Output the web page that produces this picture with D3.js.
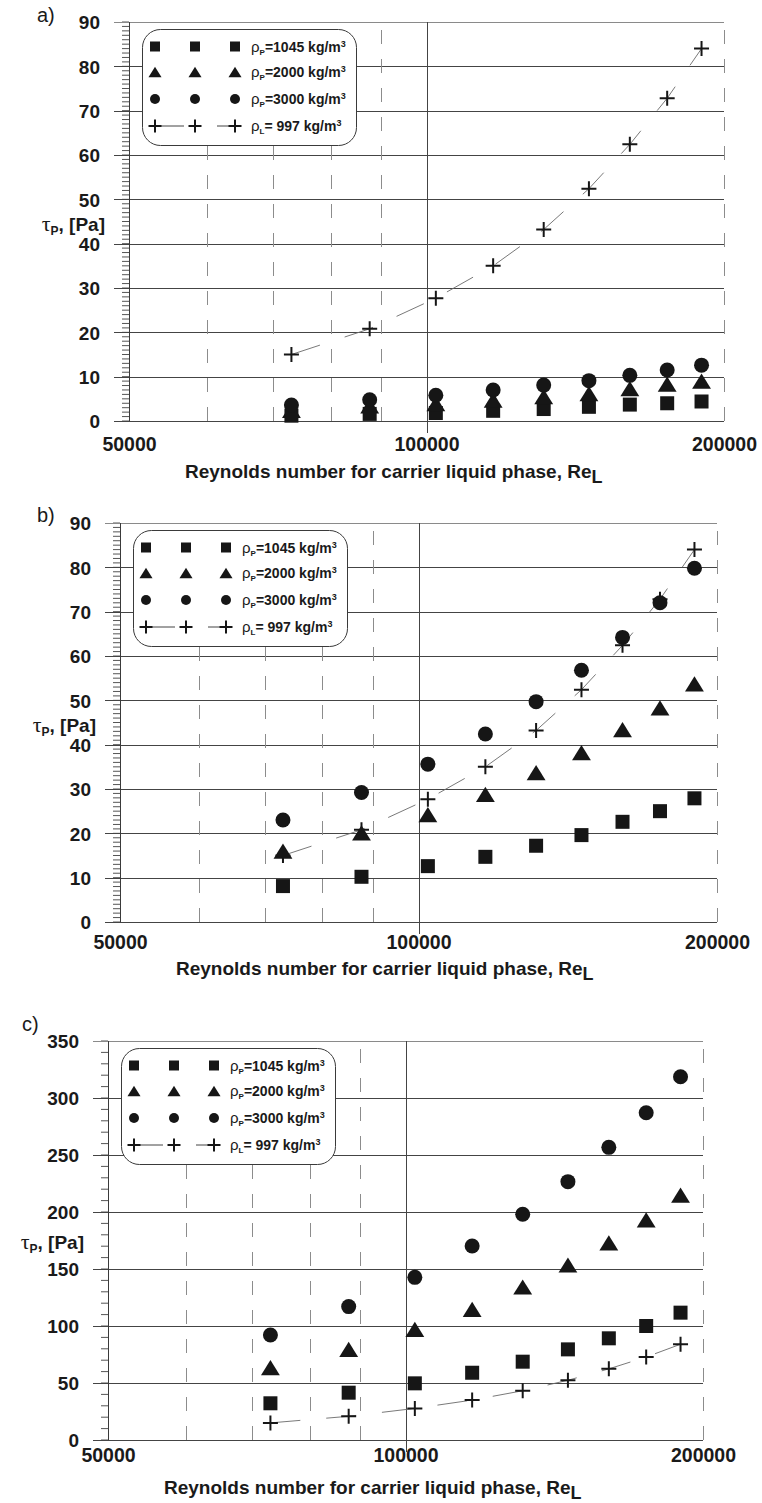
<!DOCTYPE html>
<html>
<head>
<meta charset="utf-8">
<script src="https://cdn.jsdelivr.net/npm/d3@7"></script>
<style>
  html, body { margin: 0; padding: 0; background: #fff; }
  svg { display: block; }
  text { font-family: "Liberation Sans", Arial, sans-serif; fill: #1a1a1a; }
</style>
</head>
<body>
<script>
// Reynolds numbers of the measured points (same for all three panels)
const reynolds = [73000, 87600, 102200, 116800, 131400, 146000, 160600, 175200, 189800];

// Carrier liquid alone, rho_L = 997 kg/m3 (same curve in every panel)
const liquid = [15, 20.8, 27.7, 35, 43.2, 52.4, 62.4, 72.8, 84];

// Panel a)
const aRho1045 = [1.2, 1.6, 1.8, 2.3, 2.7, 3.2, 3.7, 4.0, 4.4];
const aRho2000 = [2.4, 3.4, 3.9, 4.7, 5.5, 6.2, 7.3, 8.3, 9.0];
const aRho3000 = [3.6, 4.8, 5.8, 7.0, 8.1, 9.1, 10.3, 11.5, 12.6];

// Panel b)
const bRho1045 = [8.1, 10.2, 12.6, 14.7, 17.2, 19.6, 22.6, 25.0, 27.9];
const bRho2000 = [16.0, 20.1, 24.2, 28.8, 33.7, 38.2, 43.4, 48.3, 53.7];
const bRho3000 = [23.0, 29.2, 35.6, 42.4, 49.7, 56.8, 64.2, 72.0, 79.8];

// Panel c)
const cRho1045 = [32.2, 41.5, 49.7, 59.0, 68.7, 79.5, 89.2, 100.0, 111.7];
const cRho2000 = [63.4, 79.5, 97.0, 114.6, 134.2, 153.5, 173.0, 193.0, 214.9];
const cRho3000 = [92.1, 117.0, 142.7, 170.2, 198.0, 226.6, 256.7, 287.0, 318.7];

// Axis ticks
const xTickLabels = [50000, 100000, 200000];
const xDashedGrid = [60000, 70000, 80000, 90000, 200000];
const xSolidGrid = [100000];
const yTicksSmall = [0, 10, 20, 30, 40, 50, 60, 70, 80, 90];
const yTicksLarge = [0, 50, 100, 150, 200, 250, 300, 350];

// Legend entries
const legendLabels = [
  { sym: "square",   rho: "P", text: "=1045 kg/m" },
  { sym: "triangle", rho: "P", text: "=2000 kg/m" },
  { sym: "circle",   rho: "P", text: "=3000 kg/m" },
  { sym: "cross",    rho: "L", text: "= 997 kg/m" }
];

const panels = [
  { tag: "a)", tagX: 37, tagY: 22, left: 129, right: 724, top: 22, bottom: 421,
    yMax: 90, yTicks: yTicksSmall, minor: 1, xLabY: 30, titleY: 57, yTitleY: 231,
    sq: aRho1045, tri: aRho2000, circ: aRho3000 },
  { tag: "b)", tagX: 37, tagY: 522, left: 120, right: 717, top: 523, bottom: 922,
    yMax: 90, yTicks: yTicksSmall, minor: 1, xLabY: 27, titleY: 53, yTitleY: 732,
    sq: bRho1045, tri: bRho2000, circ: bRho3000 },
  { tag: "c)", tagX: 22, tagY: 1031, left: 108, right: 703, top: 1041, bottom: 1440,
    yMax: 350, yTicks: yTicksLarge, minor: 10, xLabY: 22, titleY: 54, yTitleY: 1249,
    sq: cRho1045, tri: cRho2000, circ: cRho3000 }
];

const svg = d3.select("body").append("svg")
  .attr("width", 762).attr("height", 1503);

const INK = "#161616";

// marker drawers, centred at (0,0)
function drawMarker(sel, type, s) {
  if (type === "square") {
    sel.append("rect").attr("x", -s / 2).attr("y", -s / 2)
      .attr("width", s).attr("height", s).attr("fill", INK);
  } else if (type === "triangle") {
    const w = s * 1.3, h = s * 1.05;
    sel.append("path")
      .attr("d", `M0,${-h / 2}L${w / 2},${h / 2}L${-w / 2},${h / 2}Z`)
      .attr("fill", INK);
  } else if (type === "circle") {
    sel.append("circle").attr("r", s / 2).attr("fill", INK);
  } else if (type === "cross") {
    sel.append("path")
      .attr("d", `M${-s / 2},0H${s / 2}M0,${-s / 2}V${s / 2}`)
      .attr("stroke", INK).attr("stroke-width", 2).attr("fill", "none");
  }
}

function drawPanel(p) {
  const g = svg.append("g");
  const x = d3.scaleLog().domain([50000, 200000]).range([p.left, p.right]);
  const y = d3.scaleLinear().domain([0, p.yMax]).range([p.bottom, p.top]);

  // minor ticks on the value axis
  g.append("g").selectAll("line")
    .data(d3.range(0, p.yMax + 1e-9, p.minor))
    .join("line")
    .attr("x1", p.left - 7).attr("x2", p.left)
    .attr("y1", d => y(d)).attr("y2", d => y(d))
    .attr("stroke", "#555").attr("stroke-width", 1);

  // horizontal grid lines (extend left as major ticks)
  g.append("g").selectAll("line")
    .data(p.yTicks)
    .join("line")
    .attr("x1", p.left - 15).attr("x2", p.right)
    .attr("y1", d => Math.round(y(d)) + 0.5).attr("y2", d => Math.round(y(d)) + 0.5)
    .attr("stroke", d => d === p.yMax ? "#8a8a8a" : "#444").attr("stroke-width", 1);

  // dashed vertical grid
  g.append("g").selectAll("line")
    .data(xDashedGrid)
    .join("line")
    .attr("x1", d => Math.round(x(d)) + 0.5).attr("x2", d => Math.round(x(d)) + 0.5)
    .attr("y1", p.bottom).attr("y2", p.top)
    .attr("stroke", "#8c8c8c").attr("stroke-width", 1)
    .attr("stroke-dasharray", "14,15");

  // solid vertical grid at 100000 (with tick below the axis)
  g.append("g").selectAll("line")
    .data(xSolidGrid)
    .join("line")
    .attr("x1", d => Math.round(x(d)) + 0.5).attr("x2", d => Math.round(x(d)) + 0.5)
    .attr("y1", p.bottom + 12).attr("y2", p.top)
    .attr("stroke", "#444").attr("stroke-width", 1);

  // value axis line
  g.append("line")
    .attr("x1", p.left + 0.5).attr("x2", p.left + 0.5)
    .attr("y1", p.top).attr("y2", p.bottom)
    .attr("stroke", "#3a3a3a").attr("stroke-width", 1);

  // y tick labels via d3 axis
  const yAxis = d3.axisLeft(y).tickValues(p.yTicks).tickSize(0).tickPadding(0)
    .tickFormat(d3.format("d"));
  const ya = g.append("g").attr("transform", `translate(${p.left - 29},0)`).call(yAxis);
  ya.select(".domain").remove();
  ya.selectAll("text")
    .attr("font-size", 19).attr("font-weight", "bold")
    .attr("font-family", "'Liberation Sans', Arial, sans-serif")
    .attr("fill", "#1a1a1a").attr("dy", "0.36em");

  // x tick labels via d3 axis
  const xAxis = d3.axisBottom(x).tickValues(xTickLabels).tickSize(0).tickPadding(0)
    .tickFormat(d3.format("d"));
  const xa = g.append("g").attr("transform", `translate(0,${p.bottom + p.xLabY})`).call(xAxis);
  xa.select(".domain").remove();
  xa.selectAll("text")
    .attr("font-size", 19.5).attr("font-weight", "bold")
    .attr("font-family", "'Liberation Sans', Arial, sans-serif")
    .attr("fill", "#1a1a1a").attr("y", 0).attr("dy", 0);

  // axis titles
  const xt = g.append("text")
    .attr("x", p.left + 56).attr("y", p.bottom + p.titleY)
    .attr("font-size", 19).attr("font-weight", "bold");
  xt.append("tspan").text("Reynolds number for carrier liquid phase, Re");
  xt.append("tspan").attr("dy", 5).attr("font-size", 18).text("L");

  const yt = g.append("text")
    .attr("x", p.left - 24).attr("y", p.yTitleY)
    .attr("text-anchor", "end").attr("font-weight", "bold").attr("font-size", 19);
  yt.append("tspan").attr("font-family", "'Liberation Serif', 'Times New Roman', serif")
    .attr("font-weight", "normal").attr("font-size", 22).text("τ");
  yt.append("tspan").attr("font-size", 12).attr("dy", 4).text("P");
  yt.append("tspan").attr("dy", -4).text(", [Pa]");

  // panel tag
  g.append("text").attr("x", p.tagX).attr("y", p.tagY)
    .attr("font-family", "'Liberation Serif', 'Times New Roman', serif")
    .attr("font-size", 20).text(p.tag);

  // carrier liquid line (long dashes) and markers
  const line = d3.line().x((d, i) => x(reynolds[i])).y(d => y(d));
  g.append("path").datum(liquid)
    .attr("d", line).attr("fill", "none")
    .attr("stroke", "#6a6a6a").attr("stroke-width", 0.9)
    .attr("stroke-dasharray", "30,26");

  const series = [
    { vals: liquid, sym: "cross", size: 15 },
    { vals: p.sq, sym: "square", size: 14 },
    { vals: p.tri, sym: "triangle", size: 14.5 },
    { vals: p.circ, sym: "circle", size: 15 }
  ];
  series.forEach(s => {
    g.append("g").selectAll("g")
      .data(s.vals)
      .join("g")
      .attr("transform", (d, i) => `translate(${x(reynolds[i])},${y(d)})`)
      .each(function () { drawMarker(d3.select(this), s.sym, s.size); });
  });

  // legend
  const lx = p.left + 13, ly = p.top + 7, lw = 214, lh = 116;
  const lg = g.append("g");
  lg.append("rect").attr("x", lx + 0.5).attr("y", ly + 0.5)
    .attr("width", lw).attr("height", lh).attr("rx", 18).attr("ry", 18)
    .attr("fill", "#fff").attr("stroke", "#3a3a3a").attr("stroke-width", 1);
  const rowY = [17.5, 43, 70, 97];
  const mX = [13, 53, 93];
  legendLabels.forEach((L, r) => {
    const yy = ly + rowY[r];
    if (L.sym === "cross") {
      lg.append("line").attr("x1", lx + mX[0]).attr("x2", lx + mX[2])
        .attr("y1", yy).attr("y2", yy)
        .attr("stroke", "#444").attr("stroke-width", 1)
        .attr("stroke-dasharray", "29,33");
    }
    mX.forEach(mx => {
      const sz = L.sym === "cross" ? 13 : 10;
      drawMarker(lg.append("g").attr("transform", `translate(${lx + mx},${yy})`), L.sym, sz);
    });
    const t = lg.append("text").attr("x", lx + 109).attr("y", yy + 5)
      .attr("font-size", 14).attr("font-weight", "bold");
    t.append("tspan").attr("font-weight", "normal").attr("font-size", 15).text("ρ");
    t.append("tspan").attr("font-size", 8).attr("dy", 3).text(L.rho);
    t.append("tspan").attr("dy", -3).text(L.text);
    t.append("tspan").attr("font-size", 9).attr("dy", -5).text("3");
  });
}

panels.forEach(drawPanel);
</script>
</body>
</html>
